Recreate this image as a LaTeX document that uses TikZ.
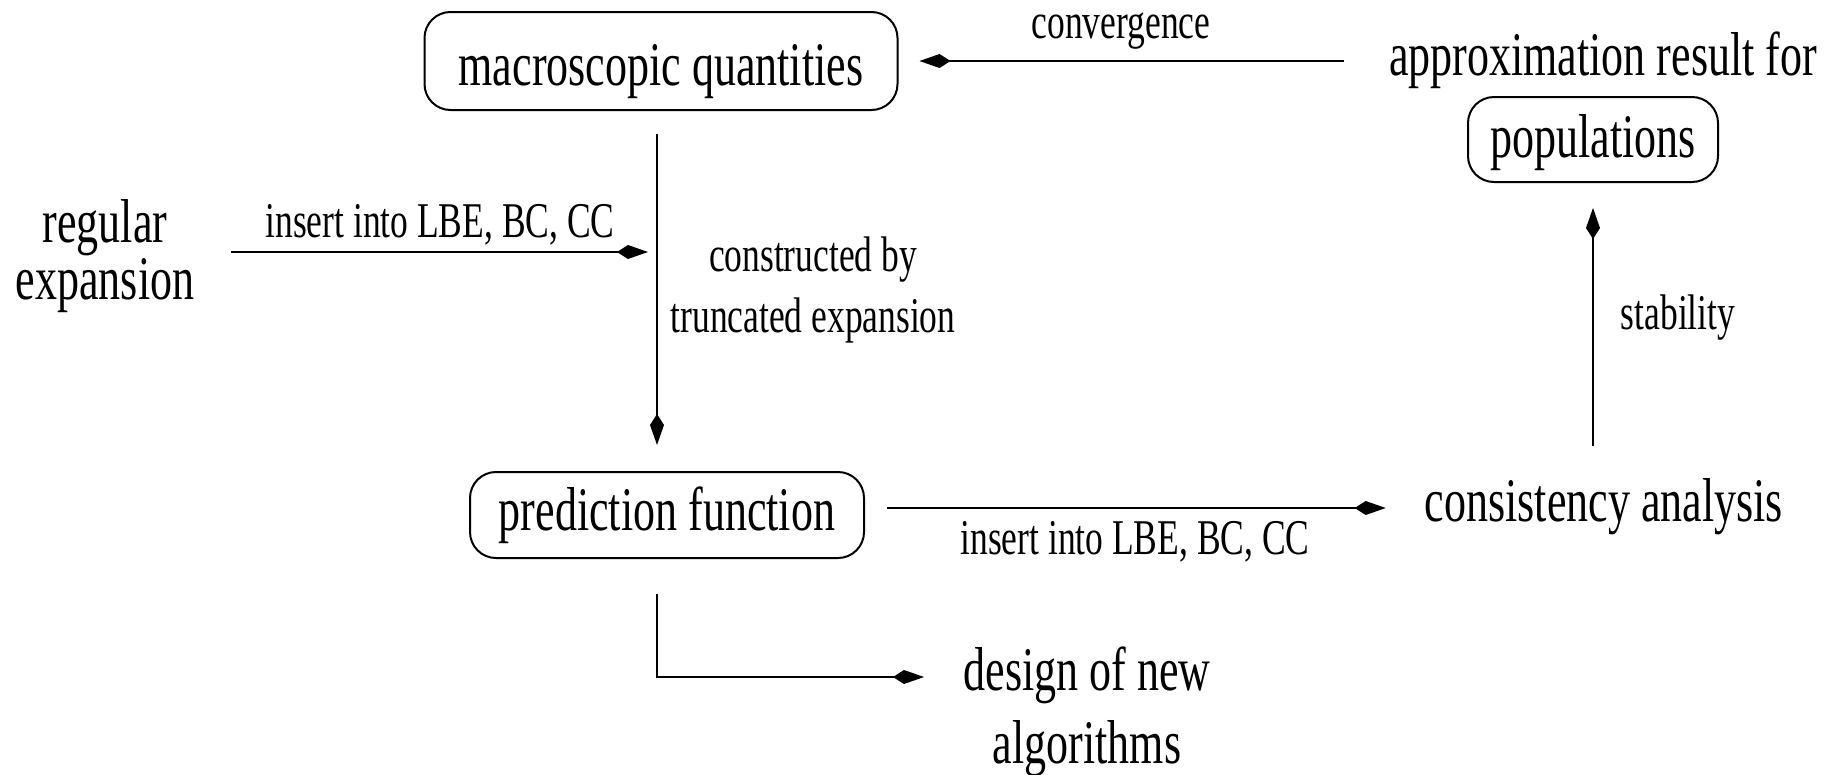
\documentclass[tikz,border=0pt]{standalone}
\usepackage{fontspec}
\setmainfont{Liberation Serif}[FakeStretch=0.71]
\usetikzlibrary{arrows.meta,calc}
\tikzset{
  big/.style={font=\fontsize{62}{57}\selectfont, inner sep=0pt},
  small/.style={font=\fontsize{50}{61}\selectfont, inner sep=0pt},
  rbox/.style={draw, line width=2pt, rounded corners=26pt, inner xsep=0pt, inner ysep=0pt, font=\fontsize{62}{66}\selectfont},
  arr/.style={line width=2pt, -{Kite[length=31pt,width=14pt,inset=11pt]}},
}
\begin{document}
\begin{tikzpicture}[x=1pt,y=-1pt]
\useasboundingbox (0,0) rectangle (1841,774);
\node[rbox, minimum width=473pt, text height=73pt, text depth=25pt] (macro) at (661,61) {macroscopic quantities};
\node[rbox, minimum width=394pt, text height=58pt, text depth=28pt] (pred) at (667,515) {prediction function};
\node[rbox, minimum width=250pt, text height=60pt, text depth=25pt] (pop) at (1593,139.5) {populations};
\node[big, anchor=base] (approx) at (1603,75) {approximation result for};
\node[big, anchor=base] (cons) at (1604,521) {consistency analysis};
\node[big, align=center] (regexp) at (105,256) {regular\\expansion};
\node[big, align=center, font=\fontsize{62}{73}\selectfont] (design) at (1087,712) {design of new\\algorithms};
\node[small, anchor=base] (lconv) at (1121,38) {convergence};
\node[small, anchor=base] (lins1) at (440,237) {insert into LBE, BC, CC};
\node[small, anchor=base] (lins2) at (1135,554) {insert into LBE, BC, CC};
\node[small, align=center] (lcons) at (813,290) {constructed by\\truncated expansion};
\node[small, anchor=base] (lstab) at (1678,329) {stability};
\coordinate (vline) at (657,252);
\coordinate (row) at (0,508);
\coordinate (dz) at (924,677);
\draw[arr, shorten <=45pt, shorten >=21pt] (approx.west |- macro.east) -- (macro.east);
\draw[arr, shorten <=37pt, shorten >=9pt] (regexp.east |- vline) -- (vline);
\draw[arr, shorten <=23pt, shorten >=26pt] (macro.south -| vline) -- (pred.north -| vline);
\draw[arr, shorten <=22pt, shorten >=39pt] (pred.east |- row) -- (cons.west |- row);
\draw[arr, shorten <=32pt, shorten >=25pt] (cons.north -| pop.south) -- (pop.south);
\draw[arr, shorten <=35pt] (pred.south -| vline) |- (dz);
\end{tikzpicture}
\end{document}
